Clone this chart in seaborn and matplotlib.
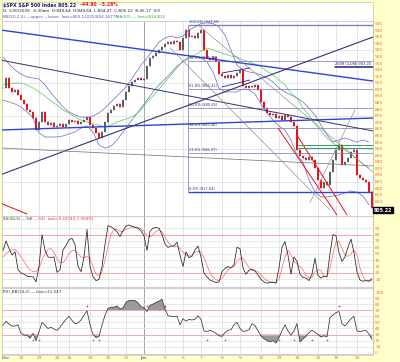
import numpy as np
import pandas as pd
import seaborn as sns
import matplotlib
matplotlib.use("Agg")
import matplotlib.pyplot as plt
from matplotlib.patches import Rectangle

# ---- values (30-min bars, about one value per 3 px) ----
close = [896.0, 903.6, 896.0, 893.0, 894.5, 890.7, 886.9, 883.8, 879.3, 877.8,
         873.2, 864.1, 870.2, 877.8, 870.2, 867.9, 869.4, 866.4, 867.2, 868.7,
         866.4, 868.7, 871.7, 870.2, 871.0, 868.7, 870.2, 871.7, 874.0, 867.9,
         865.6, 861.8, 858.0, 862.6, 870.2, 877.0, 879.3, 882.3, 883.8, 881.6,
         886.9, 893.0, 897.5, 900.6, 902.1, 903.6, 902.1, 902.9, 912.7, 918.8,
         920.3, 922.6, 924.9, 927.1, 929.4, 930.9, 929.4, 931.7, 930.9, 924.9,
         934.0, 940.0, 934.7, 935.5, 934.0, 937.8, 940.0, 924.9, 918.8, 917.3,
         919.5, 915.7, 906.6, 905.1, 903.6, 905.9, 903.6, 905.1, 907.4, 909.7,
         897.5, 896.0, 897.5, 896.8, 898.3, 894.5, 885.4, 880.8, 877.0, 875.5,
         876.3, 873.2, 874.8, 871.7, 875.5, 874.0, 870.2, 867.2, 848.9, 844.4,
         842.9, 841.3, 843.6, 841.3, 835.3, 826.2, 820.1, 824.6, 822.4, 832.2,
         841.3, 848.9, 852.7, 837.5, 839.8, 842.9, 847.4, 848.9, 830.0, 827.7,
         826.2, 824.6, 817.0, 805.2]

# bollinger bands and MA(50), read every second bar
bb_upper = [919.6, 914.2, 909.7, 906.6, 904.4, 903.6, 902.9, 898.3, 892.2, 886.9,
            881.6, 877.8, 875.5, 874.0, 873.2, 874.8, 877.0, 880.8, 885.4, 889.9,
            894.5, 899.8, 906.6, 913.5, 918.8, 924.9, 930.9, 934.0, 935.5, 934.0,
            935.5, 940.1, 942.3, 945.0, 945.5, 945.0, 942.3, 936.3, 924.9, 913.5,
            909.7, 908.2, 907.4, 905.9, 903.6, 900.6, 896.0, 893.0, 890.7, 888.4,
            885.4, 880.8, 875.5, 867.9, 860.3, 855.0, 856.5, 858.0, 856.5, 855.0,
            856.5, 855.0]
bb_lower = [886.9, 885.4, 883.9, 881.6, 877.8, 873.2, 861.9, 858.8, 858.8, 858.8,
            859.6, 861.1, 862.6, 865.6, 867.2, 862.6, 852.7, 850.4, 851.9, 856.5,
            862.6, 868.7, 874.8, 880.8, 886.9, 893.0, 898.3, 902.9, 907.4, 912.7,
            915.8, 918.8, 920.3, 918.8, 915.8, 908.2, 896.0, 893.0, 893.0, 893.0,
            895.3, 894.5, 891.5, 883.9, 877.0, 871.7, 867.2, 864.1, 856.5, 845.1,
            839.8, 826.2, 817.0, 813.3, 813.3, 814.0, 814.8, 816.3, 817.8, 817.0,
            814.0, 807.2]
ma50 = [898.3, 899.1, 899.8, 899.8, 898.3, 896.0, 893.0, 889.9, 886.1, 883.1,
        879.3, 877.0, 874.0, 871.7, 870.2, 868.7, 867.9, 866.4, 867.9, 870.2,
        871.7, 873.2, 875.5, 879.3, 885.4, 889.9, 895.3, 900.6, 905.9, 911.2,
        916.5, 919.6, 921.1, 924.1, 926.4, 924.9, 923.3, 921.8, 920.3, 919.6,
        917.3, 915.8, 914.2, 912.0, 908.9, 905.9, 902.1, 898.3, 892.2, 888.4,
        880.8, 875.5, 868.7, 863.4, 858.0, 854.2, 851.2, 848.9, 845.9, 841.3,
        838.3, 835.3]

stoch_k = [55, 70, 58, 48, 53, 25, 20, 18, 15, 14,
           14, 6, 30, 80, 55, 45, 44, 45, 21, 25,
           56, 63, 72, 74, 64, 30, 22, 45, 88, 30,
           14, 8, 10, 30, 65, 94, 92, 89, 84, 77,
           86, 93, 95, 93, 91, 90, 86, 78, 55, 85,
           90, 91, 90, 80, 65, 60, 62, 62, 68, 48,
           30, 53, 44, 46, 56, 62, 45, 20, 14, 9,
           7, 5, 6, 22, 27, 30, 28, 33, 60, 58,
           28, 18, 24, 26, 23, 17, 10, 6, 4, 5,
           5, 4, 28, 60, 69, 48, 18, 45, 38, 18,
           13, 12, 8, 18, 43, 16, 12, 15, 14, 50,
           80, 78, 52, 38, 45, 60, 73, 52, 22, 9,
           7, 8, 7, 11]
stoch_d = [45, 50, 54, 56, 57, 52, 45, 38, 30, 25,
           22, 22, 28, 40, 50, 57, 58, 52, 42, 36,
           36, 42, 50, 55, 55, 50, 45, 44, 46, 42,
           30, 18, 16, 22, 40, 62, 80, 88, 88, 85,
           85, 88, 90, 92, 92, 91, 89, 85, 78, 76,
           80, 85, 87, 84, 76, 68, 63, 62, 62, 58,
           52, 48, 46, 48, 52, 54, 53, 44, 32, 20,
           13, 9, 8, 12, 18, 25, 28, 30, 38, 43,
           42, 36, 28, 24, 24, 22, 17, 12, 8, 6,
           6, 5, 10, 28, 45, 56, 48, 38, 34, 30,
           25, 16, 12, 13, 22, 25, 24, 15, 14, 28,
           50, 68, 70, 58, 48, 46, 50, 56, 48, 28,
           14, 8, 8, 8]
rsi = [45, 52, 47, 44, 44, 46, 32, 29, 29, 24,
       32, 20, 35, 50, 45, 40, 42, 39, 37, 42,
       49, 55, 60, 53, 48, 49, 54, 62, 69, 46,
       30, 25, 27, 46, 62, 73, 75, 75, 77, 72,
       74, 83, 86, 86, 86, 82, 76, 74, 68, 78,
       80, 83, 85, 88, 72, 61, 60, 60, 60, 46,
       56, 52, 55, 54, 55, 61, 55, 36, 35, 37,
       35, 32, 28, 27, 33, 37, 38, 46, 50, 40,
       35, 36, 38, 48, 45, 36, 28, 23, 20, 18,
       20, 16, 25, 36, 46, 36, 29, 36, 48, 18,
       23, 27, 33, 37, 34, 30, 26, 28, 26, 58,
       62, 66, 68, 48, 44, 50, 56, 60, 36, 35,
       36, 37, 31, 22]
rsi_sell_marks = [28, 48, 54, 112]
rsi_buy_marks = [10, 12, 30, 32, 68, 74, 92, 97, 103, 108]

day_labels = ["Dec", "22", "23", "24", "26", "29", "30", "31", "Jan", "5",
              "6", "7", "8", "9", "12", "13", "14", "15", "16", "20"]
day_pos = [1, 6, 12, 18, 22, 29, 35, 41, 47, 54, 60, 66, 73, 79, 86, 92, 98, 105, 111, 118]

fib_pct = ["0.0%", "23.6%", "38.2%", "50.0%", "61.8%", "78.6%", "100.0%"]
fib_level = [817.04, 846.97, 865.48, 880.45, 895.41, 916.72, 943.85]
fib_start = 61.7

# hand-drawn chart notes: (bar0, price0, bar1, price1, colour, width)
trendlines = [
    (-1, 940.1, 123.3, 901.3, "#2E44D8", 1.0),
    (-1, 864.1, 123.3, 873.2, "#2E44D8", 1.0),
    (-1, 917.3, 123.3, 863.4, "#33336E", 0.7),
    (-1, 830.0, 123.3, 934.7, "#33337A", 0.8),
    (65, 943.9, 123.3, 832.2, "#8A8A8A", 0.45),
    (55.7, 926.4, 109, 803.4, "#8A8A8A", 0.45),
    (-1, 850.5, 123.3, 836.8, "#7A7A7A", 0.55),
    (102.3, 808.7, 117.3, 879.3, "#8A8A8A", 0.45),
    (-1, 808.7, 8, 800.3, "#DD1111", 0.7),
    (91.7, 865.6, 111.3, 799.6, "#EE1111", 0.7),
    (98, 860.3, 114.7, 799.6, "#EE1111", 0.7),
    (73, 907.4, 82.3, 911.2, "#22227A", 0.6),
    (73, 896.8, 82.3, 902.1, "#22227A", 0.6),
    (98.3, 852.7, 123.3, 852.7, "#2E9E5E", 0.7),
    (98.3, 850.5, 123.3, 850.5, "#2E9E5E", 0.7),
    (110.7, 912.0, 123.3, 912.0, "#22227A", 1.1),
]

# ---- layout helpers (pixel boxes of the 400x362 picture) ----
W, H = 400, 362


def px_box(x0, y0, x1, y1):
    return [x0 / W, 1 - y1 / H, (x1 - x0) / W, (y1 - y0) / H]


sns.set_style("white")
plt.rcParams["font.family"] = ["DejaVu Sans"]

fig = plt.figure(figsize=(W / 100, H / 100), dpi=100, facecolor="#FFFFCC")
fig.patches.append(Rectangle((2 / W, 1 - 355 / H), 371 / W, 353 / H, transform=fig.transFigure,
                             facecolor="white", edgecolor="#C8C8A0", lw=0.5, zorder=-1))

ax1 = fig.add_axes(px_box(2, 21, 373, 216))
ax2 = fig.add_axes(px_box(2, 216, 373, 287))
ax3 = fig.add_axes(px_box(2, 288, 373, 354))

for ax in (ax1, ax2, ax3):
    ax.set_facecolor("white")
    ax.set_xlim(-0.35, 123.35)
    ax.yaxis.tick_right()
    ax.tick_params(axis="y", length=0, pad=1.5, labelsize=3.2, labelcolor="#FF6633")
    ax.tick_params(axis="x", length=0)
    for s in ax.spines.values():
        s.set_color("#BBBBBB")
        s.set_linewidth(0.5)
    for k, p in enumerate(day_pos[1:], start=1):
        ax.axvline(p, color="#808080" if day_labels[k] == "Jan" else "#DADADA", lw=0.5, zorder=0)

# ---- price panel ----
idx = np.arange(len(close))
c = np.array(close)
o = np.r_[c[0], c[:-1]]
lo, hi = np.minimum(o, c), np.maximum(o, c)
cols = np.where(c < o, "#E8141B", "#606060")

for lvl in range(825, 950, 25):
    ax1.axhline(lvl, color="#DCDCDC", lw=0.5, zorder=0)

bars = pd.DataFrame({"bar": idx[::2], "upper": bb_upper, "lower": bb_lower, "ma": ma50})
sns.lineplot(data=bars, x="bar", y="upper", ax=ax1, color="#7474CC", lw=0.55, zorder=2)
sns.lineplot(data=bars, x="bar", y="lower", ax=ax1, color="#7474CC", lw=0.55, zorder=2)
sns.lineplot(data=bars, x="bar", y="ma", ax=ax1, color="#66CC66", lw=0.55, zorder=2)

ax1.vlines(idx, lo - 0.9, hi + 0.9, colors=cols, lw=0.35, zorder=3)
ax1.bar(idx, hi - lo + 0.6, bottom=lo - 0.3, width=0.55, color=cols, lw=0, zorder=3)

for pct, lvl in zip(fib_pct, fib_level):
    top_or_bottom = pct in ("0.0%", "100.0%")
    ax1.hlines(lvl, fib_start, 123.35,
               color="#2E44D8" if pct == "0.0%" else "#8080C0",
               lw=1.0 if top_or_bottom else 0.55, zorder=4)
    ax1.text(fib_start + 0.2, lvl + 0.8, f"{pct} ({lvl:.2f})", fontsize=2.6,
             color="#33336E", va="bottom", ha="left", zorder=6)
ax1.vlines(fib_start, fib_level[0], fib_level[-1], color="#8080C0", lw=0.55, zorder=4)

for x0, p0, x1, p1, col, w in trendlines:
    ax1.plot([x0, x1], [p0, p1], color=col, lw=w, zorder=5)
ax1.text(110.8, 913.0, "2008 CLOSE 903.25", fontsize=2.6, color="#22227A", va="bottom", zorder=6)

ax1.set_ylim(798.8, 946.9)
ax1.set_yticks(list(range(810, 950, 5)))
ax1.set_xticks([])
ax1.set_xlabel("")
ax1.set_ylabel("")

# ---- stochastic panel ----
ind = pd.DataFrame({"bar": idx, "k": stoch_k, "d": stoch_d, "rsi": rsi})
for lvl in range(10, 100, 10):
    ax2.axhline(lvl, color="#E2E2E2", lw=0.5, zorder=0)
for lvl in (20, 80):
    ax2.axhline(lvl, color="#FF9A9A", lw=0.6, zorder=1)
sns.lineplot(data=ind, x="bar", y="d", ax=ax2, color="#FF7070", lw=0.55, zorder=2)
sns.lineplot(data=ind, x="bar", y="k", ax=ax2, color="#222222", lw=0.55, zorder=3)
ax2.set_ylim(-2, 109)
ax2.set_yticks(list(range(10, 100, 10)))
ax2.set_xticks([])
ax2.set_xlabel("")
ax2.set_ylabel("")
ax2.text(0.004, 0.985, "SS(10,5) —%K", transform=ax2.transAxes, fontsize=3, color="#333333", va="top")
ax2.text(0.085, 0.985, "—%D  last=9.43743,7.95891", transform=ax2.transAxes, fontsize=3,
         color="#EE3333", va="top")

# ---- RSI panel ----
r = np.array(rsi, dtype=float)
for lvl in range(10, 100, 10):
    ax3.axhline(lvl, color="#E2E2E2", lw=0.5, zorder=0)
ax3.fill_between(idx, r, 70, where=r > 70, interpolate=True, color="#9A9A9A", lw=0, zorder=1)
ax3.fill_between(idx, r, 30, where=r < 30, interpolate=True, color="#9A9A9A", lw=0, zorder=1)
for lvl in (30, 70):
    ax3.axhline(lvl, color="#FF9A9A", lw=0.6, zorder=2)
sns.lineplot(data=ind, x="bar", y="rsi", ax=ax3, color="#333333", lw=0.55, zorder=3)
ax3.scatter(rsi_sell_marks, [77] * len(rsi_sell_marks), marker="+", s=3, lw=0.5, color="#EE2222", zorder=4)
ax3.scatter(rsi_buy_marks, [21] * len(rsi_buy_marks), marker="+", s=3, lw=0.5, color="#22BB22", zorder=4)
ax3.set_ylim(-2, 106.6)
ax3.set_yticks(list(range(0, 101, 10)))
ax3.set_xticks(day_pos)
ax3.set_xticklabels(day_labels)
ax3.tick_params(axis="x", labelsize=3.2, pad=1.2)
for lab in ax3.get_xticklabels():
    lab.set_color("#2233CC" if lab.get_text() in ("Dec", "Jan") else "#CC7744")
ax3.set_xlabel("")
ax3.set_ylabel("")
ax3.text(0.004, 0.985, "RSI_BB(14,2) — last=21.547", transform=ax3.transAxes, fontsize=3,
         color="#333333", va="top")

# ---- header and last-price box ----
fig.text(3 / W, 1 - 5 / H, "$SPX S&P 500 Index 805.22", fontsize=3.3, color="#1A1A66",
         fontweight="bold", va="center")
fig.text(80 / W, 1 - 5 / H, "-44.90  -5.28%", fontsize=3.3, color="#EE1111", fontweight="bold", va="center")
fig.text(3 / W, 1 - 11 / H, "D: 1/20/2009   6:30am  O:849.64  H:849.64  L:804.47  C:805.22  R:45.17  V:0",
         fontsize=3.0, color="#222222", va="center")
fig.text(3 / W, 1 - 17 / H, "BB(20,2.0) —upper —lower  last=865.13225/804.16775", fontsize=3.0,
         color="#5555BB", va="center")
fig.text(116 / W, 1 - 17 / H, "MA(50) — last=834.812", fontsize=3.0, color="#33AA33", va="center")

fig.text(374 / W, 1 - 210 / H, "805.22", fontsize=3.4, color="white", fontweight="bold", va="center",
         bbox=dict(boxstyle="square,pad=0.2", fc="black", ec="black"))

fig.savefig("out.png", dpi=100, facecolor=fig.get_facecolor())
